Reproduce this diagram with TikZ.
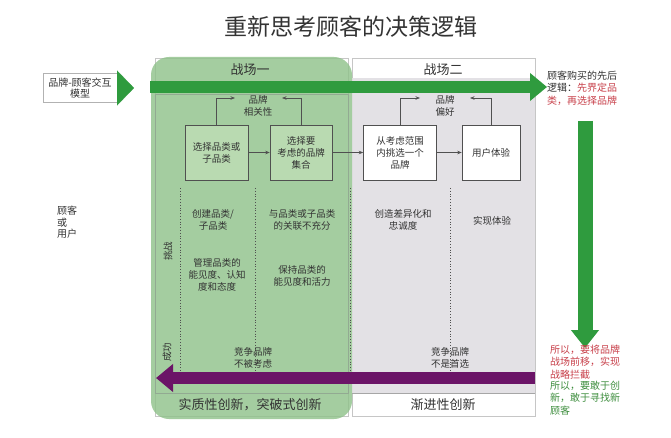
\documentclass[tikz,border=0pt]{standalone}
\usepackage{fontspec}
\setmainfont{Noto Sans CJK SC}
\usetikzlibrary{arrows.meta,calc}
\definecolor{cGreen}{HTML}{2F9B3E}
\definecolor{cPanel}{HTML}{8EC189}
\definecolor{cBoxG}{HTML}{B9DAB1}
\definecolor{cGrey}{HTML}{E3E1E5}
\definecolor{cPurple}{HTML}{6B1467}
\definecolor{cRed}{HTML}{C8404A}
\definecolor{cTxtG}{HTML}{3E8E3E}
\definecolor{cInk}{HTML}{333333}
\definecolor{cLine}{HTML}{505050}
\tikzset{
  stage/.style={draw=cLine, fill=#1, line width=0.6pt, minimum height=55,
    align=center, inner sep=2pt, text=cInk, font=\fontsize{9.5}{12}\selectfont},
  flow/.style={-{Stealth[length=4.5pt,width=3.5pt]}, line width=0.6pt, color=cLine},
  fat/.style={-{Triangle[length=17pt,width=27pt]}, line width=12pt, color=#1},
  note/.style={align=center, inner sep=1pt, text=cInk, font=\fontsize{9.5}{12}\selectfont},
  side/.style={align=left, anchor=north west, inner sep=0pt, font=\fontsize{10}{12.3}\selectfont},
  field/.style={text=cInk, font=\fontsize{13}{15}\selectfont},
  sep/.style={dotted, line width=0.8pt, color=cLine},
}

\begin{document}
\begin{tikzpicture}[x=1pt,y=-1pt]
  \useasboundingbox (0,0) rectangle (671,438);
  \fill[white] (0,0) rectangle (671,438);

  % ---------- title ----------
  \node[text=cInk, font=\fontsize{23}{26}\selectfont] (title) at (351,27) {重新思考顾客的决策逻辑};

  % ---------- battlefields ----------
  \draw[gray!45, line width=0.6pt] (155,58) rectangle (348,416);
  \draw[gray!45, line width=0.6pt] (352,58) rectangle (535,416);
  \fill[cGrey] (352,78) rectangle (535,393);
  \draw[gray!70, line width=0.6pt] (352,393) -- (535,393);
  \fill[cPanel, opacity=0.8, rounded corners=18pt] (151,57) rectangle (352,419);
  \draw[cTxtG!60!black!50, line width=0.5pt] (155,94) rectangle (348,393);
  \foreach \xx in {180,255,350,450}
    \draw[sep] (\xx,188) -- (\xx,372);

  \node[field] (bf1) at (250,70) {战场一};
  \node[field] (bf2) at (443,70) {战场二};
  \node[field] (inn1) at (250,405) {实质性创新，突破式创新};
  \node[field] (inn2) at (443,405) {渐进性创新};

  % ---------- model ----------
  \node[draw=gray!60, fill=white, align=center, inner sep=1pt, minimum width=74, minimum height=29,
        text=cInk, font=\fontsize{10}{11.5}\selectfont] (model) at (80,88) {品牌-顾客交互\\模型};
  \coordinate (mTip) at (134,88);
  \draw[-{Triangle[length=17pt,width=35pt]}, line width=0.1pt, cGreen] (model.east) -- (mTip);

  % ---------- big arrows ----------
  \coordinate (gS) at (150,87);
  \coordinate (gE) at (547,87);
  \draw[fat=cGreen] (gS) -- (gE);

  % ---------- stages ----------
  \node[stage=cBoxG, minimum width=63] (cat) at (216.5,152.5) {选择品类或\\子品类};
  \node[stage=cBoxG, minimum width=62] (set) at (301,152.5) {选择要\\考虑的品牌\\集合};
  \node[stage=white, minimum width=73] (pick) at (400,152.5) {从考虑范围\\内挑选一个\\品牌};
  \node[stage=white, minimum width=58] (exp) at (491,152.5) {用户体验};

  \node[note] (rel) at (258,106) {品牌\\相关性};
  \node[note] (pref) at (445,106) {品牌\\偏好};
  \coordinate (relL) at (235,98);
  \coordinate (relR) at (282,98);
  \coordinate (prefL) at (420,98);
  \coordinate (prefR) at (470,98);

  \draw[flow] (cat.east) -- (set.west);
  \draw[flow] (set.east) -- (pick.west);
  \draw[flow] (pick.east) -- (exp.west);
  \draw[flow] (cat.north) |- (relL);
  \draw[flow] (set.north) |- (relR);
  \draw[flow] (pick.north) |- (prefL);
  \draw[flow] (exp.north) |- (prefR);

  % ---------- challenges ----------
  \node[note, rotate=90] (chal) at (168,251) {挑战};
  \node[note, rotate=90] (succ) at (167,352) {成功};
  \node[note] (cre) at (213,220) {创建品类/\\子品类};
  \node[note] (weak) at (302,220) {与品类或子品类\\的关联不充分};
  \node[note] (mgmt) at (217,275) {管理品类的\\能见度、认知\\度和态度};
  \node[note] (keep) at (302,276) {保持品类的\\能见度和活力};
  \node[note] (diff) at (403,220) {创造差异化和\\忠诚度};
  \node[note] (real) at (492,221) {实现体验};
  \node[note] (nc1) at (253,358) {竞争品牌\\不被考虑};
  \node[note] (nc2) at (450,358) {竞争品牌\\不是首选};

  \coordinate (pS) at (535,378);
  \coordinate (pE) at (156,378);
  \draw[fat=cPurple] (pS) -- (pE);

  % ---------- side notes ----------
  \node[side, text=cInk, font=\fontsize{10}{11.5}\selectfont] (cust) at (57,206) {顾客\\或\\用户};
  \node[side, text=cInk] (logic) at (547,71)
    {顾客购买的先后\\逻辑：\textcolor{cRed}{先界定品}\\\textcolor{cRed}{类，再选择品牌}};
  \coordinate (vS) at (585,121);
  \coordinate (vE) at (585,348);
  \draw[-{Triangle[length=18pt,width=27pt]}, line width=15pt, cGreen] (vS) -- (vE);
  \node[side, text=cRed] (move) at (550,345) {所以，要将品牌\\战场前移，实现\\战略拦截};
  \node[side, text=cTxtG] (dare) at (550,381) {所以，要敢于创\\新，敢于寻找新\\顾客};

\end{tikzpicture}
\end{document}
